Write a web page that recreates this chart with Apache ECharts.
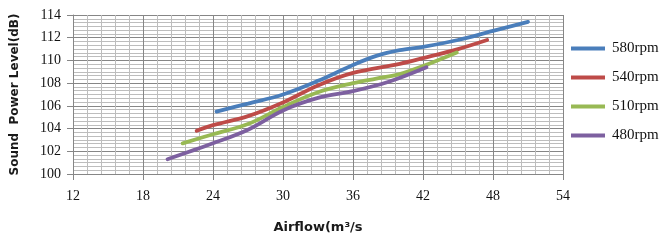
<!DOCTYPE html>
<html>
<head>
<meta charset="utf-8">
<script src="https://cdn.jsdelivr.net/npm/echarts@6/dist/echarts.min.js"></script>
<style>
  html, body { margin: 0; padding: 0; background: #fff; }
  #chart { width: 672px; height: 241px; }
</style>
</head>
<body>
<div id="chart"></div>
<script>
// airflow (m3/s) and sound power level (dB) per fan speed
const rpm580X = [24.3, 27, 30, 33, 36, 38, 40, 42, 45, 48, 51];
const rpm580Y = [105.5, 106.2, 107.0, 108.2, 109.6, 110.4, 110.9, 111.2, 111.8, 112.6, 113.4];
const rpm540X = [22.6, 24, 27, 30, 33, 36, 40, 42, 45, 47.5];
const rpm540Y = [103.8, 104.3, 105.1, 106.3, 107.8, 108.9, 109.7, 110.2, 111.0, 111.8];
const rpm510X = [21.4, 24, 27, 30, 33, 36, 38, 40, 42, 44.9];
const rpm510Y = [102.7, 103.5, 104.4, 105.9, 107.2, 108.0, 108.4, 108.8, 109.5, 110.7];
const rpm480X = [20.1, 24, 27, 30, 33, 36, 39, 42.3];
const rpm480Y = [101.3, 102.7, 103.9, 105.6, 106.7, 107.3, 108.1, 109.4];

const seriesNames = ["580rpm", "540rpm", "510rpm", "480rpm"];
const colors = ["#4a7ebb", "#be4b48", "#98b954", "#7d60a0"];

function pairs(xs, ys) {
  return xs.map((x, i) => [x, ys[i]]);
}
const lines = [
  pairs(rpm580X, rpm580Y),
  pairs(rpm540X, rpm540Y),
  pairs(rpm510X, rpm510Y),
  pairs(rpm480X, rpm480Y)
];

const chart = echarts.init(document.getElementById("chart"), null, { renderer: "canvas" });

const tickFont = { fontFamily: "Liberation Serif", fontSize: 14, color: "#111" };

let series = [];
lines.forEach((v, i) => {
  series.push({
    name: seriesNames[i],
    type: "line",
    smooth: 0.35,
    showSymbol: false,
    symbol: "none",
    data: v,
    lineStyle: { width: 3.8, color: colors[i], cap: "round" },
    itemStyle: { color: colors[i] }
  });
});

let option = {
  animation: false,
  backgroundColor: "#fff",
  grid: { left: 73, right: 109, top: 15, bottom: 67 },
  legend: {
    orient: "vertical",
    left: 566,
    top: 36,
    itemWidth: 34,
    itemHeight: 4,
    itemGap: 14,
    icon: "rect",
    data: seriesNames,
    textStyle: { fontFamily: "Liberation Serif", fontSize: 15, color: "#111", padding: [0, 0, 0, 2] }
  },
  xAxis: {
    type: "value",
    min: 12,
    max: 54,
    interval: 6,
    name: "Airflow(m³/s",
    nameLocation: "middle",
    nameGap: 47,
    nameTextStyle: { fontFamily: "DejaVu Sans", fontWeight: "bold", fontSize: 13, color: "#1a1a1a" },
    axisLine: { show: true, lineStyle: { color: "#868686", width: 1 } },
    axisTick: { show: true, length: 6, lineStyle: { color: "#868686" } },
    axisLabel: Object.assign({ margin: 15 }, tickFont),
    splitLine: { show: true, lineStyle: { color: "#868686", width: 1 } },
    minorTick: { show: false, splitNumber: 5 },
    minorSplitLine: { show: true, lineStyle: { color: "#bdbdbd", width: 1 } }
  },
  yAxis: {
    type: "value",
    min: 100,
    max: 114,
    interval: 2,
    name: "Sound  Power Level(dB)",
    nameLocation: "middle",
    nameGap: 52,
    nameTextStyle: { fontFamily: "DejaVu Sans", fontWeight: "bold", fontSize: 12, color: "#1a1a1a" },
    axisLine: { show: true, lineStyle: { color: "#868686", width: 1 } },
    axisTick: { show: true, length: 6, lineStyle: { color: "#868686" } },
    axisLabel: Object.assign({ margin: 12 }, tickFont),
    splitLine: { show: true, lineStyle: { color: "#868686", width: 1 } },
    minorTick: { show: false, splitNumber: 6 },
    minorSplitLine: { show: true, lineStyle: { color: "#bdbdbd", width: 1 } }
  },
  series: series
};
chart.setOption(option);
</script>
</body>
</html>
